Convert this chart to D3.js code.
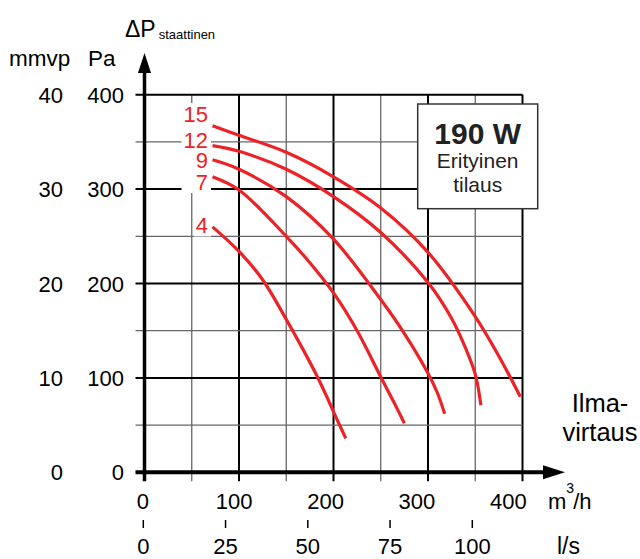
<!DOCTYPE html>
<html>
<head>
<meta charset="utf-8">
<script src="https://cdn.jsdelivr.net/npm/d3@7"></script>
<style>
  body { margin: 0; background: #fff; }
  text { font-family: "Liberation Sans", Arial, sans-serif; }
</style>
</head>
<body>
<div id="chart"></div>
<script>
// Data
const paTicks = [0, 100, 200, 300, 400];
const mmvpTicks = [0, 10, 20, 30, 40];
const flowTicks = [0, 100, 200, 300, 400];   // m3/h
const lsTicks = [0, 25, 50, 75, 100];         // l/s
const gridSteps = [50, 100, 150, 200, 250, 300, 350, 400];

const curveNames = ["4", "7", "9", "12", "15"];
const labelPa = [253, 299, 322, 344, 371];

// [m3/h, Pa]
const curve4 = [[72, 260], [100, 234], [125, 204], [150, 162], [182, 103], [206, 51], [213, 36]];
const curve7 = [[72, 313], [100, 299], [150, 250], [175, 222], [200, 190], [225, 150], [250, 101], [265, 72], [275, 52]];
const curve9 = [[72, 331], [100, 321], [150, 292], [200, 247], [250, 183], [275, 147], [300, 105], [310, 84], [317.6, 62]];
const curve12 = [[72, 346], [100, 340], [150, 321], [200, 292], [250, 254], [300, 201], [325, 163], [340, 131], [350, 104], [356, 71]];
const curve15 = [[72, 367], [100, 357], [150, 339], [200, 313], [250, 280], [300, 233], [350, 165], [375, 123], [397.7, 80]];
const curves = [curve4, curve7, curve9, curve12, curve15];

const width = 640;
const height = 559;
const red = "#ec2227";

const x = d3.scaleLinear().domain([0, 400]).range([144.5, 522.5]);
const y = d3.scaleLinear().domain([0, 400]).range([472.3, 94.7]);
const yMm = d3.scaleLinear().domain([0, 40]).range([472.3, 94.7]);
// printed tick labels sit on slightly narrower rows than the grid
const xLabel = d3.scaleLinear().domain([0, 400]).range([142.8, 508.3]);
const xLs = d3.scaleLinear().domain([0, 100]).range([143.3, 472.3]);

const svg = d3.select("#chart")
    .append("svg")
    .attr("width", width)
    .attr("height", height);

// grid
const grid = svg.append("g");
grid.selectAll(".v")
    .data(gridSteps)
    .enter().append("line")
    .attr("x1", d => x(d)).attr("x2", d => x(d))
    .attr("y1", y(0) + 9).attr("y2", y(400))
    .attr("stroke", d => d % 100 === 0 ? "#000" : "#666")
    .attr("stroke-width", d => d % 100 === 0 ? 2 : 1.3);
grid.selectAll(".h")
    .data(gridSteps)
    .enter().append("line")
    .attr("y1", d => y(d)).attr("y2", d => y(d))
    .attr("x1", x(0) - 9).attr("x2", x(400))
    .attr("stroke", d => d % 100 === 0 ? "#000" : "#666")
    .attr("stroke-width", d => d % 100 === 0 ? 2 : 1.3);

// axes with arrows
svg.append("line")
    .attr("x1", x(0)).attr("x2", x(0))
    .attr("y1", y(0) + 9).attr("y2", 70)
    .attr("stroke", "#000").attr("stroke-width", 3.5);
svg.append("path")
    .attr("d", `M${x(0)},53 L${x(0) - 6.5},73 L${x(0) + 6.5},73 Z`)
    .attr("fill", "#000");
svg.append("line")
    .attr("x1", x(0) - 9).attr("x2", 546)
    .attr("y1", y(0)).attr("y2", y(0))
    .attr("stroke", "#000").attr("stroke-width", 4);
svg.append("path")
    .attr("d", `M565,${y(0)} L543,${y(0) - 7} L543,${y(0) + 7} Z`)
    .attr("fill", "#000");

// tick labels
const fs = 22;
svg.selectAll(".pa")
    .data(paTicks)
    .enter().append("text")
    .attr("x", 124).attr("y", d => y(d) + 8)
    .attr("text-anchor", "end").attr("font-size", fs)
    .text(d => d);
svg.selectAll(".mm")
    .data(mmvpTicks)
    .enter().append("text")
    .attr("x", 63).attr("y", d => yMm(d) + 8)
    .attr("text-anchor", "end").attr("font-size", fs)
    .text(d => d);
svg.selectAll(".fl")
    .data(flowTicks)
    .enter().append("text")
    .attr("x", d => xLabel(d)).attr("y", 509)
    .attr("text-anchor", "middle").attr("font-size", fs)
    .text(d => d);
svg.selectAll(".lst")
    .data(lsTicks)
    .enter().append("line")
    .attr("x1", d => xLs(d)).attr("x2", d => xLs(d))
    .attr("y1", 520).attr("y2", 528)
    .attr("stroke", "#000").attr("stroke-width", 1.5);
svg.selectAll(".ls")
    .data(lsTicks)
    .enter().append("text")
    .attr("x", d => xLs(d)).attr("y", 554)
    .attr("text-anchor", "middle").attr("font-size", fs)
    .text(d => d);

// axis titles
svg.append("text").attr("x", 9).attr("y", 66).attr("font-size", 22.5).text("mmvp");
svg.append("text").attr("x", 88).attr("y", 66).attr("font-size", 22.5).text("Pa");
const dp = svg.append("text").attr("x", 125).attr("y", 37).attr("font-size", 23);
dp.append("tspan").text("\u0394P");
dp.append("tspan").attr("font-size", 13).attr("dx", 3).attr("dy", 2).text("staattinen");
const mh = svg.append("text").attr("x", 548).attr("y", 509).attr("font-size", fs);
mh.append("tspan").text("m");
mh.append("tspan").attr("font-size", 14).attr("dy", -16).text("3");
mh.append("tspan").attr("dy", 16).attr("dx", -1).text("/h");
svg.append("text").attr("x", 557).attr("y", 554).attr("font-size", 23).text("l/s");
svg.append("text").attr("x", 600).attr("y", 412).attr("text-anchor", "middle").attr("font-size", 25.5).text("Ilma-");
svg.append("text").attr("x", 600).attr("y", 441).attr("text-anchor", "middle").attr("font-size", 25.5).text("virtaus");

// power box
svg.append("rect")
    .attr("x", 417.7).attr("y", 104).attr("width", 120).attr("height", 104.7)
    .attr("fill", "#fff").attr("stroke", "#333").attr("stroke-width", 1.5);
svg.append("text").attr("x", 477.7).attr("y", 144).attr("text-anchor", "middle")
    .attr("font-size", 30).attr("font-weight", "bold").attr("fill", "#222").text("190 W");
svg.append("text").attr("x", 477.7).attr("y", 168.3).attr("text-anchor", "middle")
    .attr("font-size", 21).attr("fill", "#222").text("Erityinen");
svg.append("text").attr("x", 477.7).attr("y", 191.7).attr("text-anchor", "middle")
    .attr("font-size", 21).attr("fill", "#222").text("tilaus");

// curves
const line = d3.line()
    .x(d => x(d[0]))
    .y(d => y(d[1]))
    .curve(d3.curveCatmullRom.alpha(0.5));

svg.append("g").selectAll("path")
    .data(curves)
    .enter().append("path")
    .attr("d", line)
    .attr("fill", "none")
    .attr("stroke", red)
    .attr("stroke-width", 3.2)
    .attr("stroke-linecap", "butt");

// curve labels with white backing
const bg = svg.append("g");
const labels = svg.append("g").selectAll("text")
    .data(curveNames)
    .enter().append("text")
    .attr("x", 208).attr("y", (d, i) => y(labelPa[i]))
    .attr("text-anchor", "end").attr("font-size", fs)
    .attr("fill", red)
    .text(d => d);
const boxes = labels.nodes().map(n => n.getBBox());
const top4 = boxes.slice(1);
const ux0 = d3.min(top4, b => b.x) - 2, ux1 = d3.max(top4, b => b.x + b.width) + 3;
const uy0 = d3.min(top4, b => b.y) + 1, uy1 = d3.max(top4, b => b.y + b.height) - 2;
bg.append("rect").attr("x", ux0).attr("y", uy0).attr("width", ux1 - ux0).attr("height", uy1 - uy0).attr("fill", "#fff");
bg.append("rect").attr("x", boxes[0].x - 2).attr("y", boxes[0].y + 1)
    .attr("width", boxes[0].width + 5).attr("height", boxes[0].height - 3).attr("fill", "#fff");
</script>
</body>
</html>
